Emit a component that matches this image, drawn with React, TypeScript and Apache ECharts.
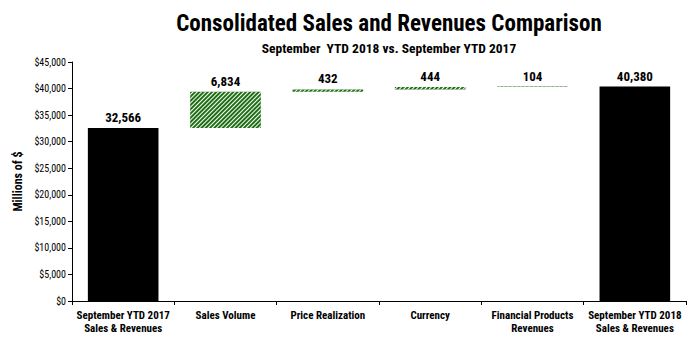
import React, { useEffect, useRef } from "react";
import * as echarts from "echarts";

const categories = [
  "September YTD 2017\nSales & Revenues",
  "Sales Volume",
  "Price Realization",
  "Currency",
  "Financial Products\nRevenues",
  "September YTD 2018\nSales & Revenues",
];
const values = [32566, 6834, 432, 444, 104, 40380];
const isTotal = [true, false, false, false, false, true];
const yTicks = { min: 0, max: 45000, interval: 5000 };

const FONT = "'Liberation Sans Narrow', 'Arial Narrow', 'Roboto Condensed', sans-serif";

export default function App() {
  const ref = useRef<HTMLDivElement>(null);
  useEffect(() => {
    document.body.style.margin = "0";
    if (!ref.current) return;
    const chart = echarts.init(ref.current, undefined, { renderer: "svg" });
    let running = 0;
    const base: number[] = [];
    values.forEach((v, i) => {
      if (isTotal[i]) {
        base.push(0);
        running = v;
      } else {
        base.push(running);
        running += v;
      }
    });
    const fmt = (n: number) => n.toLocaleString("en-US");
    chart.setOption({
      animation: false,
      backgroundColor: "#ffffff",
      title: [
        {
          text: "Consolidated Sales and Revenues Comparison",
          left: 384,
          top: 7,
          textAlign: "center",
          textStyle: { fontFamily: FONT, fontSize: 23, fontWeight: "bold", color: "#000" },
        },
        {
          text: "September  YTD 2018 vs. September YTD 2017",
          left: 384,
          top: 36,
          textAlign: "center",
          textStyle: { fontFamily: FONT, fontSize: 13.5, fontWeight: "bold", color: "#000" },
        },
      ],
      grid: { left: 72, right: 8, top: 62, bottom: 39, containLabel: false },
      xAxis: {
        type: "category",
        data: categories,
        axisLine: { lineStyle: { color: "#000", width: 1 } },
        axisTick: { show: true, alignWithLabel: false, length: 4, lineStyle: { color: "#000" } },
        axisLabel: {
          interval: 0,
          margin: 8,
          fontFamily: FONT,
          fontSize: 11,
          fontWeight: "bold",
          color: "#000",
          lineHeight: 13,
        },
      },
      yAxis: {
        type: "value",
        min: yTicks.min,
        max: yTicks.max,
        interval: yTicks.interval,
        name: "Millions of $",
        nameLocation: "middle",
        nameGap: 47,
        nameTextStyle: { fontFamily: FONT, fontSize: 12, fontWeight: "bold", color: "#000" },
        splitLine: { show: false },
        axisLine: { show: true, lineStyle: { color: "#000" } },
        axisTick: { show: true, length: 4, lineStyle: { color: "#000" } },
        axisLabel: {
          fontFamily: FONT,
          fontSize: 10,
          color: "#000",
          margin: 6,
          formatter: (v: number) => "$" + fmt(v),
        },
      },
      series: [
        {
          type: "bar",
          stack: "w",
          data: base,
          itemStyle: { color: "transparent" },
          silent: true,
          barCategoryGap: "31%",
        },
        {
          type: "bar",
          stack: "w",
          barCategoryGap: "31%",
          data: values.map((v, i) =>
            isTotal[i]
              ? { value: v, itemStyle: { color: "#000", decal: { symbol: "none" } } }
              : {
                  value: v,
                  itemStyle: {
                    color: "#1f6f14",
                    decal: {
                      symbol: "rect",
                      symbolSize: 1,
                      color: "#ffffff",
                      dashArrayX: [1, 0],
                      dashArrayY: [1, 2],
                      rotation: -Math.PI / 4,
                    },
                  },
                }
          ),
          label: {
            show: true,
            position: "top",
            distance: 4,
            fontFamily: FONT,
            fontSize: 13,
            fontWeight: "bold",
            color: "#000",
            formatter: (p: any) => fmt(p.value),
          },
        },
      ],
    });
    return () => chart.dispose();
  }, []);
  return <div ref={ref} style={{ width: 694, height: 340 }} />;
}
